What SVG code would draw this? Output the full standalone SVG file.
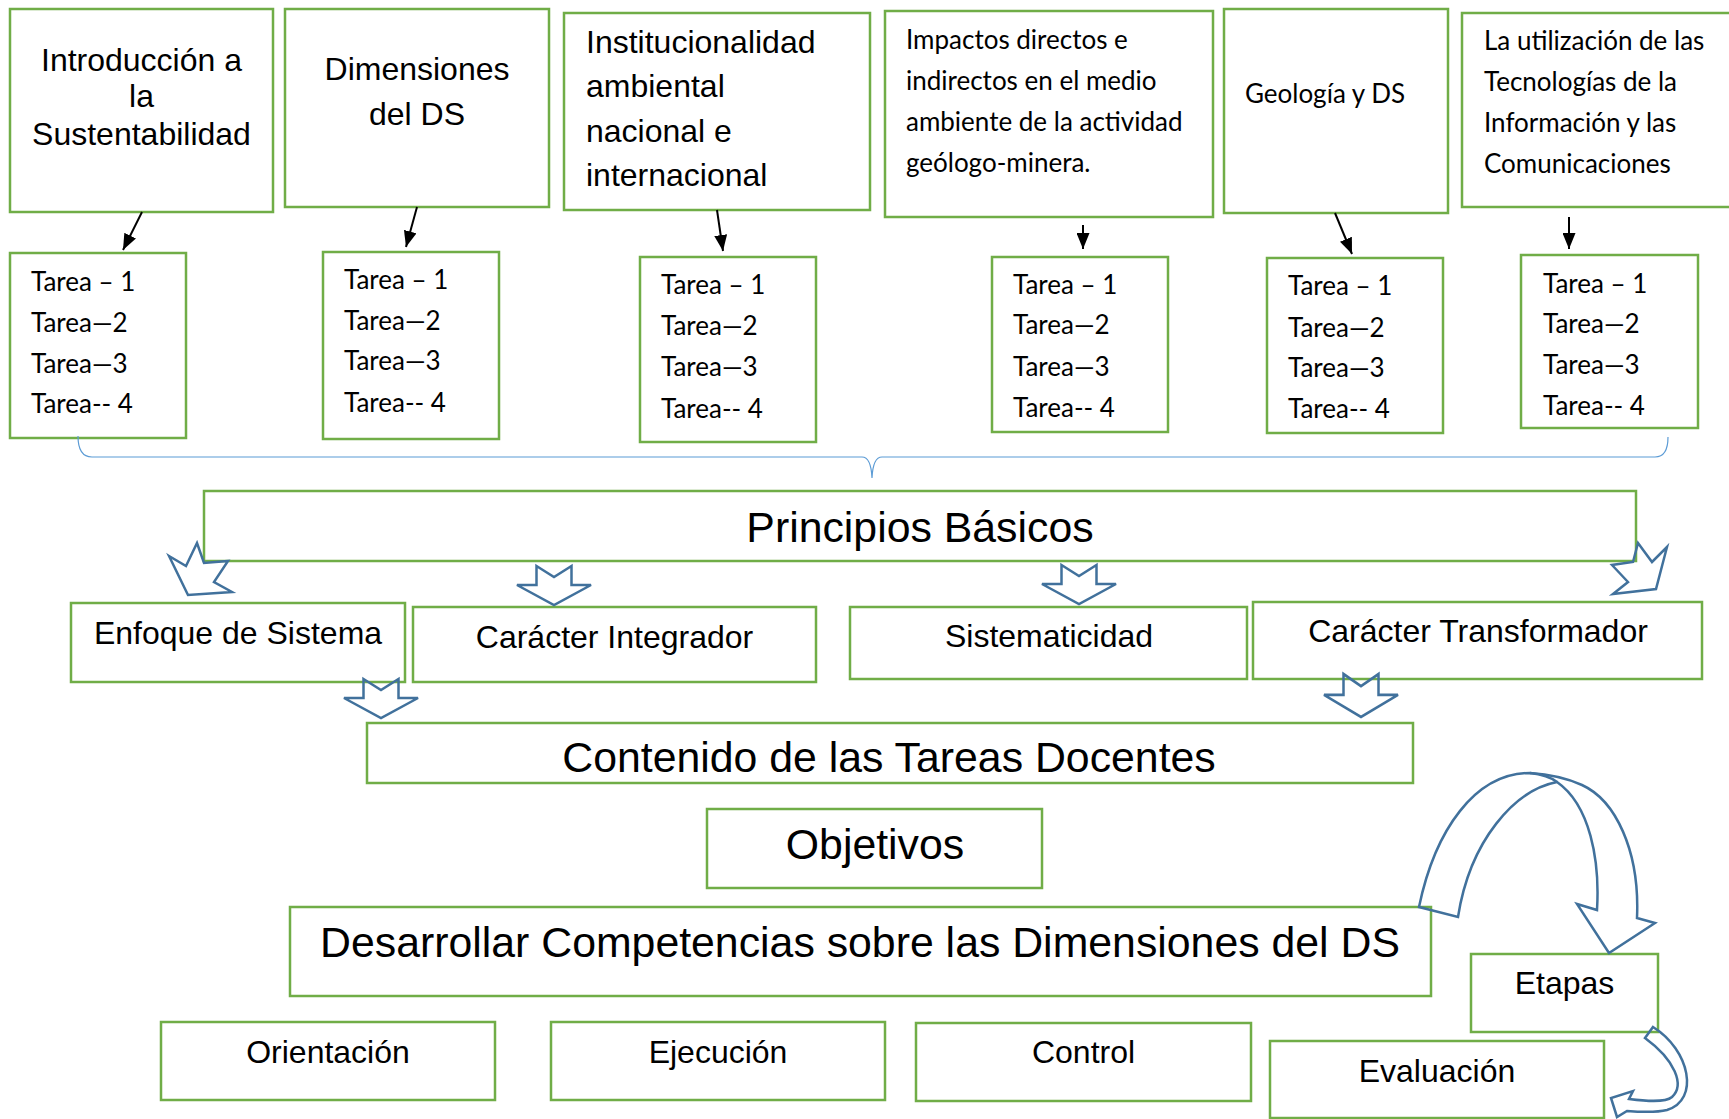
<svg xmlns="http://www.w3.org/2000/svg" width="1729" height="1119" viewBox="0 0 1729 1119">
<style>
.box{fill:none;stroke:#70AD47;stroke-width:2.5}
.ar{font-family:"Liberation Sans",Arial,sans-serif;fill:#000}
.f31{font-size:32px}
.f42{font-size:42.8px}
.cal{font-family:Lato,"Noto Sans",sans-serif;font-size:26px;fill:#000}
.blk{fill:none;stroke:#41719C;stroke-width:2.5;stroke-linejoin:miter}
.con{stroke:#000;stroke-width:2;fill:none}
.brace{fill:none;stroke:#5B9BD5;stroke-width:1.2}
</style>
<defs>
<marker id="ah" markerUnits="userSpaceOnUse" markerWidth="16" markerHeight="13" refX="16" refY="6.5" orient="auto">
<path d="M0,0 L16,6.5 L0,13 Z" fill="#000"/>
</marker>
<path id="down" d="M-17.5,0 L0,11 L17.5,0 L17.5,19 L37,19 L0,39 L-37,19 L-17.5,19 Z"/>
</defs>
<rect width="1729" height="1119" fill="#fff"/>

<g id="n-intro">
<rect class="box" x="10" y="9" width="263" height="203"/>
<text class="ar f31" text-anchor="middle" x="141.5" y="71">Introducción a</text>
<text class="ar f31" text-anchor="middle" x="141.5" y="107">la</text>
<text class="ar f31" text-anchor="middle" x="141.5" y="145">Sustentabilidad</text>
</g>
<g id="n-dim">
<rect class="box" x="285" y="9" width="264" height="198"/>
<text class="ar f31" text-anchor="middle" x="417" y="80">Dimensiones</text>
<text class="ar f31" text-anchor="middle" x="417" y="125">del DS</text>
</g>
<g id="n-inst">
<rect class="box" x="564" y="13" width="306" height="197"/>
<text class="ar f31" x="586" y="53">Institucionalidad</text>
<text class="ar f31" x="586" y="97">ambiental</text>
<text class="ar f31" x="586" y="142">nacional e</text>
<text class="ar f31" x="586" y="186">internacional</text>
</g>
<g id="n-imp">
<rect class="box" x="885" y="11" width="328" height="206"/>
<text class="cal" x="906" y="49">Impactos directos e</text>
<text class="cal" x="906" y="90">indirectos en el medio</text>
<text class="cal" x="906" y="131">ambiente de la actividad</text>
<text class="cal" x="906" y="172">geólogo-minera.</text>
</g>
<g id="n-geo">
<rect class="box" x="1224" y="9" width="224" height="204"/>
<text class="cal" x="1245" y="103">Geología y DS</text>
</g>
<g id="n-tic">
<rect class="box" x="1462" y="13" width="290" height="194"/>
<text class="cal" x="1484" y="50">La utilización de las</text>
<text class="cal" x="1484" y="91">Tecnologías de la</text>
<text class="cal" x="1484" y="132">Información y las</text>
<text class="cal" x="1484" y="173">Comunicaciones</text>
</g>

<g id="t1">
<rect class="box" x="10" y="253" width="176" height="185"/>
<text class="cal" x="31" y="291">Tarea – 1</text>
<text class="cal" x="31" y="332">Tarea—2</text>
<text class="cal" x="31" y="373">Tarea—3</text>
<text class="cal" x="31" y="413">Tarea-- 4</text>
</g>
<g id="t2">
<rect class="box" x="323" y="252" width="176" height="187"/>
<text class="cal" x="344" y="289">Tarea – 1</text>
<text class="cal" x="344" y="330">Tarea—2</text>
<text class="cal" x="344" y="370">Tarea—3</text>
<text class="cal" x="344" y="412">Tarea-- 4</text>
</g>
<g id="t3">
<rect class="box" x="640" y="257" width="176" height="185"/>
<text class="cal" x="661" y="294">Tarea – 1</text>
<text class="cal" x="661" y="335">Tarea—2</text>
<text class="cal" x="661" y="376">Tarea—3</text>
<text class="cal" x="661" y="418">Tarea-- 4</text>
</g>
<g id="t4">
<rect class="box" x="992" y="257" width="176" height="175"/>
<text class="cal" x="1013" y="294">Tarea – 1</text>
<text class="cal" x="1013" y="334">Tarea—2</text>
<text class="cal" x="1013" y="376">Tarea—3</text>
<text class="cal" x="1013" y="417">Tarea-- 4</text>
</g>
<g id="t5">
<rect class="box" x="1267" y="258" width="176" height="175"/>
<text class="cal" x="1288" y="295">Tarea – 1</text>
<text class="cal" x="1288" y="337">Tarea—2</text>
<text class="cal" x="1288" y="377">Tarea—3</text>
<text class="cal" x="1288" y="418">Tarea-- 4</text>
</g>
<g id="t6">
<rect class="box" x="1521" y="255" width="177" height="173"/>
<text class="cal" x="1543" y="293">Tarea – 1</text>
<text class="cal" x="1543" y="333">Tarea—2</text>
<text class="cal" x="1543" y="374">Tarea—3</text>
<text class="cal" x="1543" y="415">Tarea-- 4</text>
</g>

<g id="n-principios">
<rect class="box" x="204" y="491" width="1432" height="70"/>
<text class="ar f42" text-anchor="middle" x="920" y="542">Principios Básicos</text>
</g>
<g id="n-enfoque">
<rect class="box" x="71" y="603" width="334" height="79"/>
<text class="ar f31" text-anchor="middle" x="238" y="644">Enfoque de Sistema</text>
</g>
<g id="n-integrador">
<rect class="box" x="413" y="607" width="403" height="75"/>
<text class="ar f31" text-anchor="middle" x="614.5" y="648">Carácter Integrador</text>
</g>
<g id="n-sistematicidad">
<rect class="box" x="850" y="607" width="397" height="72"/>
<text class="ar f31" text-anchor="middle" x="1049" y="647">Sistematicidad</text>
</g>
<g id="n-transformador">
<rect class="box" x="1253" y="602" width="449" height="77"/>
<text class="ar f31" text-anchor="middle" x="1478" y="642">Carácter Transformador</text>
</g>
<g id="n-contenido">
<rect class="box" x="367" y="723" width="1046" height="60"/>
<text class="ar f42" text-anchor="middle" x="889" y="772">Contenido de las Tareas Docentes</text>
</g>
<g id="n-objetivos">
<rect class="box" x="707" y="809" width="335" height="79"/>
<text class="ar f42" text-anchor="middle" x="875" y="859">Objetivos</text>
</g>
<g id="n-desarrollar">
<rect class="box" x="290" y="907" width="1141" height="89"/>
<text class="ar f42" text-anchor="middle" x="860" y="957">Desarrollar Competencias sobre las Dimensiones del DS</text>
</g>
<g id="n-orientacion">
<rect class="box" x="161" y="1022" width="334" height="78"/>
<text class="ar f31" text-anchor="middle" x="328" y="1063">Orientación</text>
</g>
<g id="n-ejecucion">
<rect class="box" x="551" y="1022" width="334" height="78"/>
<text class="ar f31" text-anchor="middle" x="718" y="1063">Ejecución</text>
</g>
<g id="n-control">
<rect class="box" x="916" y="1023" width="335" height="78"/>
<text class="ar f31" text-anchor="middle" x="1083.5" y="1063">Control</text>
</g>
<g id="n-etapas">
<rect class="box" x="1471" y="954" width="187" height="78"/>
<text class="ar f31" text-anchor="middle" x="1564.5" y="994">Etapas</text>
</g>
<g id="n-evaluacion">
<rect class="box" x="1270" y="1041" width="334" height="77"/>
<text class="ar f31" text-anchor="middle" x="1437" y="1082">Evaluación</text>
</g>

<g id="connectors">
<line class="con" x1="142" y1="212" x2="123" y2="250" marker-end="url(#ah)"/>
<line class="con" x1="417" y1="207" x2="406" y2="247" marker-end="url(#ah)"/>
<line class="con" x1="717" y1="210" x2="723" y2="251" marker-end="url(#ah)"/>
<line class="con" x1="1083" y1="225" x2="1083" y2="249" marker-end="url(#ah)"/>
<line class="con" x1="1335" y1="213" x2="1352" y2="254" marker-end="url(#ah)"/>
<line class="con" x1="1569" y1="217" x2="1569" y2="249" marker-end="url(#ah)"/>
<path class="brace" d="M78,436 Q78,457 92,457 L862,457 Q871,457 872,478 Q873,457 882,457 L1655,457 Q1668,457 1668,437"/>
<polygon class="blk" points="169,556 186,566 197,543 204,563 228,561 214,582 232,592 188,595"/>
<polygon class="blk" points="1638,543 1652,562 1667,547 1656,589 1613,594 1628,582 1612,565 1633,562"/>
<use href="#down" class="blk" x="554" y="566"/>
<use href="#down" class="blk" x="1079" y="565"/>
<use href="#down" class="blk" x="381" y="679"/>
<path class="blk" transform="translate(1361,674) scale(1,1.1)" d="M-17.5,0 L0,11 L17.5,0 L17.5,19 L37,19 L0,39 L-37,19 L-17.5,19 Z"/>
<path class="blk" d="M1419,907 C1435,830 1475,773 1530,773 Q1560,775 1582,785 C1615,800 1640,850 1637,918 L1655,923 L1609,953 L1577,904 L1597,910 C1600,860 1590,805 1557,782 C1515,790 1470,840 1458,917 Z"/>
<path class="blk" d="M1530,773 Q1548,775 1557,782"/>
<path class="blk" d="M1645,1038 L1653,1027 C1690,1050 1700,1100 1667,1110 C1655,1113 1640,1112 1627,1111 L1617,1117 L1611,1098 L1633,1091 L1629,1099 C1645,1101 1665,1103 1672,1097 C1685,1085 1675,1060 1645,1038 Z"/>
</g>
</svg>
